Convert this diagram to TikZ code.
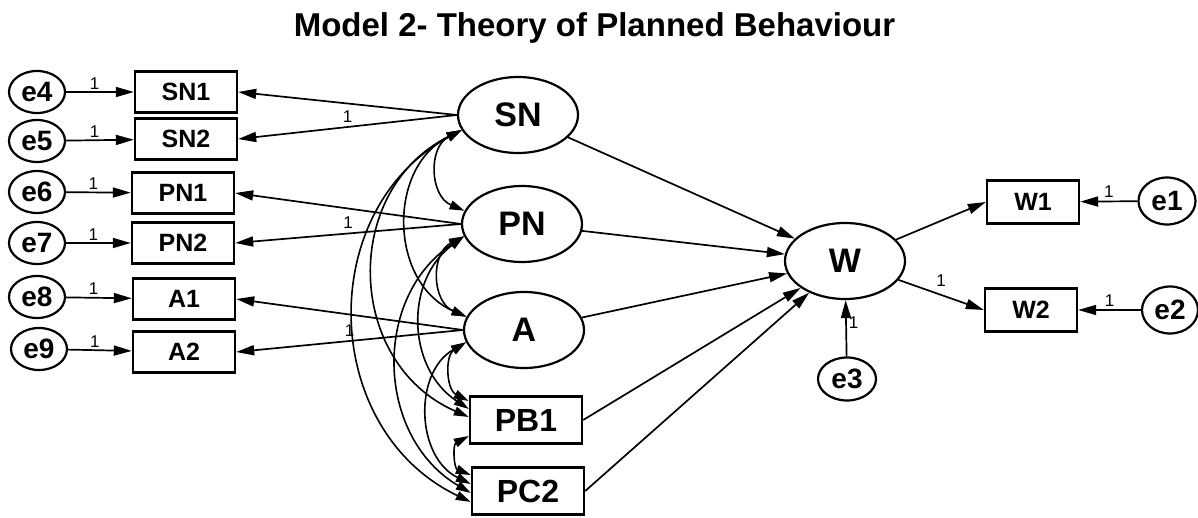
\documentclass[tikz,border=0pt]{standalone}
\usepackage{fontspec}
\setmainfont{Liberation Sans}
\usetikzlibrary{shapes.geometric,arrows.meta,calc}
\begin{document}
\begin{tikzpicture}[x=1pt,y=-1pt,
  obs/.style={draw,line width=2.4pt,rectangle,minimum width=102pt,minimum height=41pt,inner sep=0pt,font=\fontsize{25}{28}\selectfont\bfseries},
  obsb/.style={obs,minimum width=112pt,minimum height=47pt,font=\fontsize{32}{36}\selectfont\bfseries},
  obsw/.style={obs,minimum width=92pt,minimum height=43pt},
  lat/.style={draw,line width=2.2pt,ellipse,minimum width=120pt,minimum height=76pt,inner sep=0pt,font=\fontsize{34}{38}\selectfont\bfseries},
  err/.style={draw,line width=2.2pt,ellipse,minimum width=56pt,minimum height=42pt,inner sep=0pt,font=\fontsize{28}{30}\selectfont\bfseries},
  reg/.style={line width=1.7pt,-{Triangle[length=18pt,width=10pt]}},
  cov/.style={line width=1.6pt,{Triangle[length=15pt,width=9pt]}-{Triangle[length=15pt,width=9pt]}},
  one/.style={font=\fontsize{17}{18}\selectfont,inner sep=1pt}
]
\useasboundingbox[fill=white] (0,0) rectangle (1198,518);
\node[font=\fontsize{33}{36}\selectfont\bfseries,anchor=base] (title) at (594.5,37) {Model 2- Theory of Planned Behaviour};
% error terms left
\node[err] (e4) at (37,92) {e4};
\node[err] (e5) at (37,141) {e5};
\node[err] (e6) at (37,192) {e6};
\node[err] (e7) at (37,243) {e7};
\node[err] (e8) at (37,297) {e8};
\node[err] (e9) at (39,349) {e9};
% indicators
\node[obs] (SN1) at (186,92) {SN1};
\node[obs] (SN2) at (186,139) {SN2};
\node[obs] (PN1) at (183,193) {PN1};
\node[obs] (PN2) at (183,243) {PN2};
\node[obs] (A1) at (184,299) {A1};
\node[obs] (A2) at (184,352) {A2};
% latents
\node[lat] (SN) at (518,115) {SN};
\node[lat] (PN) at (522,224) {PN};
\node[lat] (A) at (524,330) {A};
\node[obsb] (PB1) at (526,420) {PB1};
\node[obsb] (PC2) at (528,491) {PC2};
\node[lat] (W) at (845,261) {W};
\node[obsw] (W1) at (1033,202) {W1};
\node[obsw] (W2) at (1031,310) {W2};
\node[err,minimum width=57pt,minimum height=47pt] (e1) at (1167,201) {e1};
\node[err,minimum width=56pt,minimum height=47pt] (e2) at (1170,310) {e2};
\node[err,minimum width=58pt,minimum height=43pt] (e3) at (847,379) {e3};
% error arrows
\foreach \e/\o in {e4/SN1,e5/SN2,e6/PN1,e7/PN2,e8/A1,e9/A2}
  \draw[reg] (\e) -- node[one,pos=0.42,above=1pt]{1} (\o);
% loadings
\draw[reg] (SN.west) -- (SN1.east);
\draw[reg] (SN.west) -- node[one,pos=0.5,above=3pt]{1} (SN2.east);
\draw[reg] (PN.west) -- (PN1.east);
\draw[reg] (PN.west) -- node[one,pos=0.5,above=3pt]{1} (PN2.east);
\draw[reg] (A.west) -- (A1.east);
\draw[reg] (A.west) -- node[one,pos=0.5,above=3pt]{1} (A2.east);
% structural
\draw[reg] (SN) -- (W);
\draw[reg] (PN) -- (W);
\draw[reg] (A) -- (W);
\draw[reg] (PB1.east) -- (W);
\draw[reg] (PC2.east) -- (W);
\draw[reg] (W) -- (W1.west);
\draw[reg] (W) -- node[one,pos=0.5,above=7pt]{1} (W2.west);
\draw[reg] (e1) -- node[one,pos=0.5,above=2pt]{1} (W1);
\draw[reg] (e2) -- node[one,pos=0.5,above=2pt]{1} (W2);
\draw[reg] (e3) -- node[one,pos=0.6,right=1pt]{1} (W);
% covariance end points
\coordinate (pbA) at ($(PB1.west)+(0,-19)$);
\coordinate (pbP) at ($(PB1.west)+(0,-11)$);
\coordinate (pbS) at ($(PB1.west)+(0,-3)$);
\coordinate (pbC) at ($(PB1.west)+(0,16)$);
\coordinate (pcB) at ($(PC2.west)+(0,-16)$);
\coordinate (pcA) at ($(PC2.west)+(0,-7)$);
\coordinate (pcP) at ($(PC2.west)+(0,2)$);
\coordinate (pcS) at ($(PC2.west)+(0,11)$);
% covariances
\draw[cov] (SN.195) to[bend right=65,looseness=1.2] (PN.167);
\draw[cov] (PN.192) to[bend right=65,looseness=1.2] (A.167);
\draw[cov] (A.192) to[bend right=60,looseness=1.1] (pbA);
\draw[cov] (pbC) to[bend right=65,looseness=1.2] (pcB);
\draw[cov] (SN.195) to[bend right=65,looseness=1.15] (A.167);
\draw[cov] (PN.192) to[bend right=55,looseness=1.1] (pbP);
\draw[cov] (A.192) to[bend right=62,looseness=1.1] (pcA);
\draw[cov] (SN.195) to[bend right=65,looseness=1.2] (pbS);
\draw[cov] (PN.192) to[bend right=58,looseness=1.1] (pcP);
\draw[cov] (SN.195) to[bend right=63,looseness=1.15] (pcS);
\end{tikzpicture}
\end{document}
